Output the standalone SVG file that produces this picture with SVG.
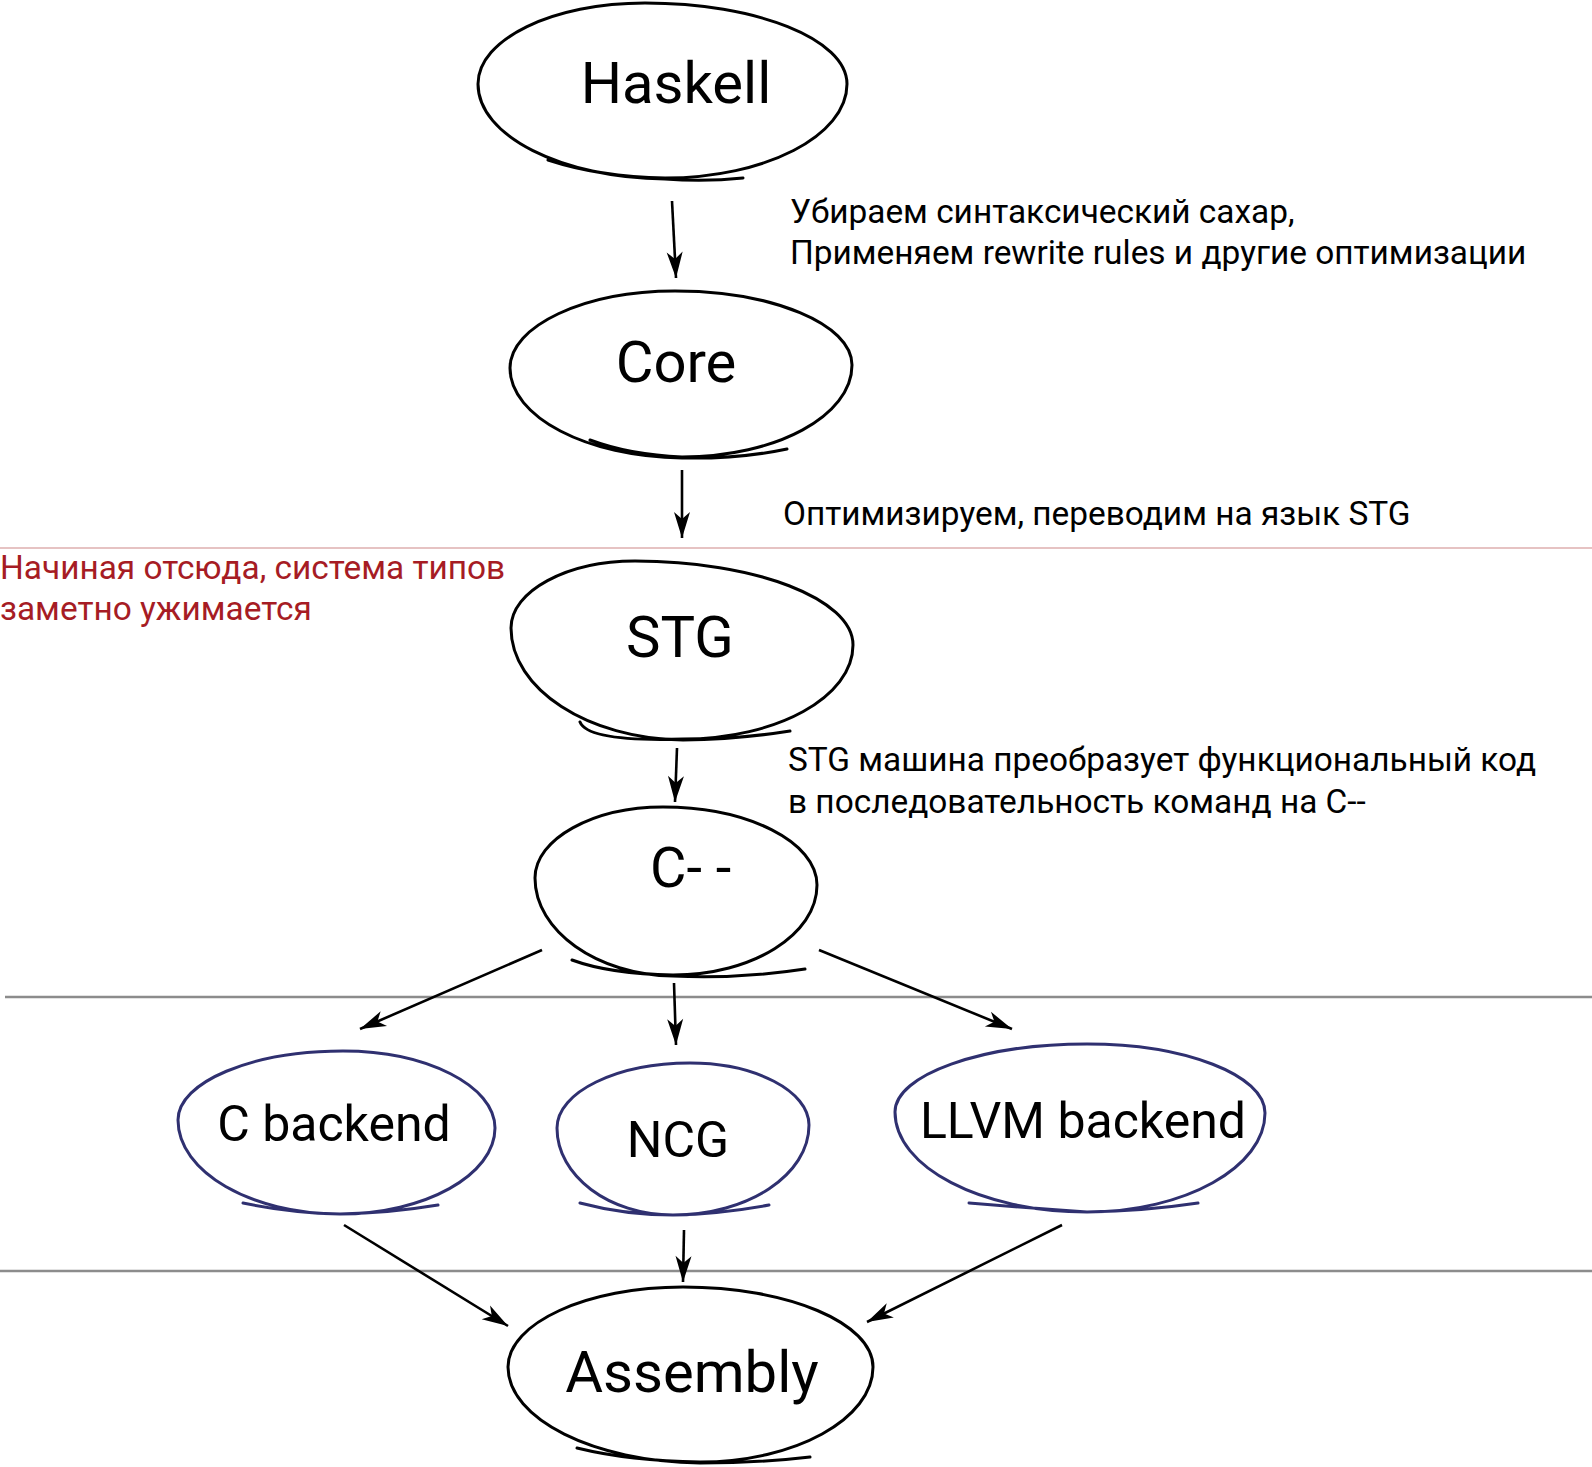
<svg xmlns="http://www.w3.org/2000/svg" width="1592" height="1467" viewBox="0 0 1592 1467">
<style>
.bg{fill:#ffffff}
.nb{fill:none;stroke:#000000;stroke-width:3;stroke-linecap:round;stroke-linejoin:round}
.nv{fill:none;stroke:#2f3070;stroke-width:3;stroke-linecap:round;stroke-linejoin:round}
.lbl{font-family:Roboto,"Liberation Sans",sans-serif;fill:#000000;text-anchor:middle}
.big{font-size:58px}
.mid{font-size:50px}
.note{font-family:Roboto,"Liberation Sans",sans-serif;font-size:33.4px;fill:#000000}
.red{fill:#a61c24}
.edge{fill:none;stroke:#000000;stroke-width:2.6}
.sep{stroke:#8c8c8c;stroke-width:2.5}
.sep2{stroke:#e6c3c3;stroke-width:2}
</style>
<defs>
<marker id="arr" markerUnits="userSpaceOnUse" orient="auto" refX="0" refY="0" markerWidth="40" markerHeight="40" viewBox="-30 -15 40 30" overflow="visible">
<path d="M0,0 L-26,-8 L-19,0 L-26,8 Z" fill="#000000"/>
</marker>
</defs>
<rect class="bg" x="0" y="0" width="1592" height="1467"/>
<g id="separators">
<line class="sep2" x1="0" y1="548" x2="1592" y2="548"/>
<line class="sep" x1="5" y1="997" x2="1592" y2="997"/>
<line class="sep" x1="0" y1="1271" x2="1592" y2="1271"/>
</g>
<g id="connectors">
<line class="edge" x1="672" y1="201" x2="676" y2="278" marker-end="url(#arr)"/>
<line class="edge" x1="682" y1="470" x2="682" y2="538" marker-end="url(#arr)"/>
<line class="edge" x1="677" y1="748" x2="675" y2="802" marker-end="url(#arr)"/>
<line class="edge" x1="542" y1="950" x2="360" y2="1029" marker-end="url(#arr)"/>
<line class="edge" x1="674" y1="983" x2="676" y2="1045" marker-end="url(#arr)"/>
<line class="edge" x1="819" y1="950" x2="1012" y2="1029" marker-end="url(#arr)"/>
<line class="edge" x1="344" y1="1225" x2="508" y2="1326" marker-end="url(#arr)"/>
<line class="edge" x1="684" y1="1230" x2="683" y2="1282" marker-end="url(#arr)"/>
<line class="edge" x1="1062" y1="1225" x2="867" y2="1322" marker-end="url(#arr)"/>
</g>
<g id="node-haskell">
<path class="nb" d="M548,160 Q600,177 665,178 C765,178 847,136 847,84 C847,39 756,3 645,3 C553,3 478,39 478,84 C478,136 562,178 665,179 Q705,182 743,178"/>
<text class="lbl big" x="676" y="103">Haskell</text>
</g>
<g id="node-core">
<path class="nb" d="M590,440 Q630,455 682,457 C776,457 852,416 852,365 C852,324 772,291 675,291 C584,291 510,326 510,368 C510,417 587,457 682,458 Q740,459 787,449"/>
<text class="lbl big" x="676" y="382">Core</text>
</g>
<g id="node-stg">
<path class="nb" d="M580,722 Q588,742 683,739 C777,739 853,697 853,645 C853,599 755,561 635,561 C567,561 511,591 511,628 C511,689 588,739 683,740 Q740,739 790,731"/>
<text class="lbl big" x="680" y="657">STG</text>
</g>
<g id="node-cmm">
<path class="nb" d="M572,960 Q610,974 673,975 C752,975 817,935 817,885 C817,842 748,807 663,807 C593,807 535,839 535,878 C535,931 597,975 673,976 Q740,979 805,969"/>
<text class="lbl big" x="650" y="887" style="text-anchor:start;font-size:56px">C- -</text>
</g>
<g id="node-cbackend">
<path class="nv" d="M243,1203 Q290,1213 340,1214 C425,1214 495,1175 495,1128 C495,1086 427,1051 343,1051 C252,1051 178,1082 178,1120 C178,1172 251,1214 340,1214 Q390,1213 438,1205"/>
<text class="lbl mid" x="334" y="1141">C backend</text>
</g>
<g id="node-ncg">
<path class="nv" d="M580,1203 Q625,1215 673,1215 C748,1215 809,1175 809,1125 C809,1091 755,1063 690,1063 C617,1063 557,1092 557,1128 C557,1176 609,1215 673,1215 Q720,1214 769,1205"/>
<text class="lbl mid" x="678" y="1157">NCG</text>
</g>
<g id="node-llvm">
<path class="nv" d="M969,1203 Q1030,1208 1087,1212 C1185,1212 1265,1167 1265,1113 C1265,1075 1185,1044 1087,1044 C981,1044 895,1075 895,1112 C895,1167 981,1212 1087,1212 Q1145,1211 1198,1203"/>
<text class="lbl mid" x="1083" y="1138">LLVM backend</text>
</g>
<g id="node-assembly">
<path class="nb" d="M577,1448 Q630,1461 700,1462 C795,1462 873,1419 873,1367 C873,1323 788,1287 683,1287 C587,1287 508,1323 508,1367 C508,1419 594,1462 700,1463 Q760,1463 810,1457"/>
<text class="lbl big" x="692" y="1392">Assembly</text>
</g>
<g id="notes">
<text class="note" x="790" y="223">Убираем синтаксический сахар,</text>
<text class="note" x="790" y="264">Применяем rewrite rules и другие оптимизации</text>
<text class="note" x="783" y="525">Оптимизируем, переводим на язык STG</text>
<text class="note red" x="0" y="579">Начиная отсюда, система типов</text>
<text class="note red" x="0" y="620">заметно ужимается</text>
<text class="note" x="788" y="771">STG машина преобразует функциональный код</text>
<text class="note" x="788" y="813">в последовательность команд на C--</text>
</g>
</svg>
